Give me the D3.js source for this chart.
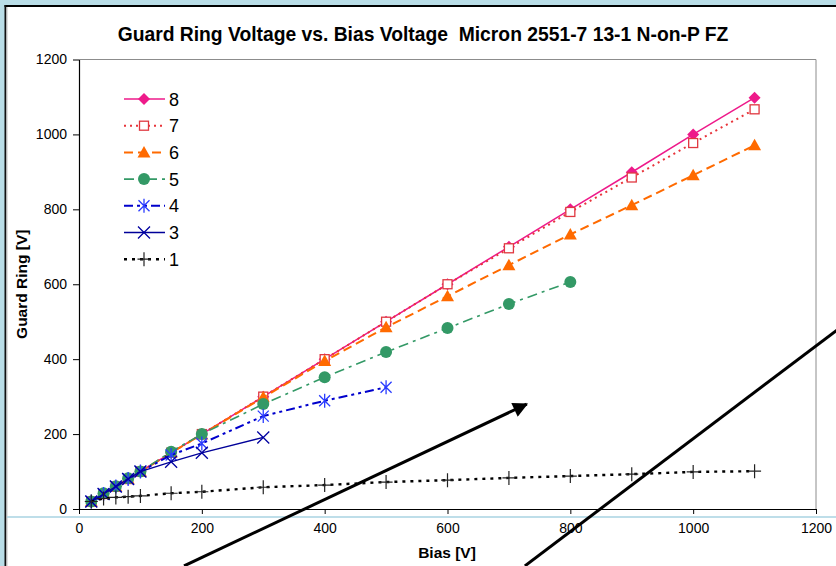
<!DOCTYPE html>
<html>
<head>
<meta charset="utf-8">
<script src="https://cdn.jsdelivr.net/npm/d3@7"></script>
<style>
  html, body { margin: 0; padding: 0; background: #b9dde7; }
  svg { display: block; }
  text { font-family: "Liberation Sans", Arial, sans-serif; }
</style>
</head>
<body>
<svg id="chart" width="836" height="566"></svg>
<script>
// ---------------- data ----------------
const title = "Guard Ring Voltage vs. Bias Voltage  Micron 2551-7 13-1 N-on-P FZ";
const xLabel = "Bias [V]";
const yLabel = "Guard Ring [V]";
const xTicks = [0, 200, 400, 600, 800, 1000, 1200];
const yTicks = [0, 200, 400, 600, 800, 1000, 1200];

const biasFull = [20, 40, 60, 80, 100, 150, 200, 300, 400, 500, 600, 700, 800, 900, 1000, 1100];
const bias5 = [20, 40, 60, 80, 100, 150, 200, 300, 400, 500, 600, 700, 800];
const bias4 = [20, 40, 60, 80, 100, 150, 200, 300, 400, 500];
const bias3 = [20, 40, 60, 80, 100, 150, 200, 300];

const ring8 = [20, 40, 60, 80, 100, 150, 200, 300, 400, 500, 600, 700, 800, 899, 1000, 1098];
const ring7 = [20, 40, 60, 80, 100, 150, 200, 300, 400, 500, 600, 696, 793, 885, 977, 1067];
const ring6 = [20, 40, 60, 80, 100, 150, 199, 298, 395, 485, 568, 651, 733, 811, 891, 971];
const ring5 = [20, 42, 61, 82, 100, 153, 200, 280, 352, 419, 483, 547, 606];
const ring4 = [20, 40, 60, 80, 100, 144, 175, 248, 289, 325];
const ring3 = [20, 40, 60, 80, 100, 126, 150, 191];
const ring1 = [20, 28, 31, 33, 35, 42, 46, 58, 64, 72, 77, 83, 88, 93, 99, 101];

const seriesNames = ["8", "7", "6", "5", "4", "3", "1"];

// annotation arrows (in data units of the chart axes)
const arrowA = [[171, -152], [729, 280]];
const arrowB = [[726, -152], [1240, 485]];

// ---------------- styles ----------------
const styles = {
  "8": { color: "#ee1a8a", dash: null, width: 1.5, marker: "diamond", mcolor: "#ee1a8a" },
  "7": { color: "#e8343a", dash: "2,4", width: 2, marker: "square", mcolor: "#e03840" },
  "6": { color: "#ff6a00", dash: "9,5", width: 2, marker: "triangle", mcolor: "#ff6a00" },
  "5": { color: "#339966", dash: "10,5,3,5", width: 1.6, marker: "circle", mcolor: "#339966" },
  "4": { color: "#0000cc", dash: "9,4,3,4,3,4", width: 2, marker: "asterisk", mcolor: "#2a3cff" },
  "3": { color: "#000099", dash: null, width: 1.3, marker: "x", mcolor: "#0000a0" },
  "1": { color: "#000000", dash: "3,5", width: 2.4, marker: "plus", mcolor: "#222222" }
};

const seriesData = {
  "8": biasFull.map((b, i) => [b, ring8[i]]),
  "7": biasFull.map((b, i) => [b, ring7[i]]),
  "6": biasFull.map((b, i) => [b, ring6[i]]),
  "5": bias5.map((b, i) => [b, ring5[i]]),
  "4": bias4.map((b, i) => [b, ring4[i]]),
  "3": bias3.map((b, i) => [b, ring3[i]]),
  "1": biasFull.map((b, i) => [b, ring1[i]])
};

// ---------------- layout ----------------
const svg = d3.select("#chart");
const W = 836, H = 566;
const plot = { left: 79, right: 816, top: 59.5, bottom: 509 };

const x = d3.scaleLinear().domain([0, 1200]).range([plot.left, plot.right]);
const y = d3.scaleLinear().domain([0, 1200]).range([plot.bottom, plot.top]);

// frame
svg.append("rect").attr("x", 6).attr("y", 7).attr("width", W - 6).attr("height", H - 7).attr("fill", "#ffffff");
svg.append("line").attr("x1", 4.5).attr("x2", W).attr("y1", 6).attr("y2", 6).attr("stroke", "#000").attr("stroke-width", 2);
svg.append("line").attr("x1", 5.3).attr("x2", 5.3).attr("y1", 5).attr("y2", H).attr("stroke", "#111").attr("stroke-width", 1.6);
svg.append("line").attr("x1", 6.8).attr("x2", 6.8).attr("y1", 7).attr("y2", H).attr("stroke", "#9a9a9a").attr("stroke-width", 1);
// slide decoration line
svg.append("line").attr("x1", 7).attr("x2", W).attr("y1", 517).attr("y2", 517).attr("stroke", "#a9d3e2").attr("stroke-width", 1.5);

// title
svg.append("text").attr("x", 423).attr("y", 41).attr("text-anchor", "middle")
  .attr("font-size", 19.3).attr("font-weight", "bold").attr("fill", "#000")
  .style("white-space", "pre").attr("xml:space", "preserve").text(title);

// plot border (gray top & right)
svg.append("path")
  .attr("d", `M${plot.left},${plot.top}H${plot.right}V${plot.bottom}`)
  .attr("fill", "none").attr("stroke", "#8c8c8c").attr("stroke-width", 1);

// axes
const fmt = d3.format("d");
const xAxis = d3.axisBottom(x).tickValues(xTicks).tickFormat(fmt).tickSize(5).tickSizeOuter(0).tickPadding(9);
const yAxis = d3.axisLeft(y).tickValues(yTicks).tickFormat(fmt).tickSize(6).tickSizeOuter(0).tickPadding(6);

const gx = svg.append("g").attr("transform", `translate(0,${plot.bottom})`).call(xAxis);
const gy = svg.append("g").attr("transform", `translate(${plot.left},0)`).call(yAxis);
[gx, gy].forEach(g => {
  g.attr("font-size", 14).attr("font-family", "'Liberation Sans', Arial, sans-serif");
  g.select(".domain").attr("stroke", "#000").attr("stroke-width", 1.2);
  g.selectAll(".tick line").attr("stroke", "#000");
  g.selectAll(".tick text").attr("font-size", 14).attr("fill", "#000");
});

// axis titles
svg.append("text").attr("x", 447).attr("y", 558).attr("text-anchor", "middle")
  .attr("font-size", 15.5).attr("font-weight", "bold").text(xLabel);
svg.append("text").attr("transform", `translate(27,${(plot.top + plot.bottom) / 2}) rotate(-90)`)
  .attr("text-anchor", "middle").attr("font-size", 15.5).attr("font-weight", "bold").text(yLabel);

// ---------------- markers ----------------
function drawMarker(g, type, cx, cy, color) {
  const s = 6;
  if (type === "diamond") {
    g.append("path").attr("d", `M${cx},${cy - s}L${cx + s},${cy}L${cx},${cy + s}L${cx - s},${cy}Z`).attr("fill", color);
  } else if (type === "square") {
    g.append("rect").attr("x", cx - 4.5).attr("y", cy - 4.5).attr("width", 9).attr("height", 9)
      .attr("fill", "#fff").attr("stroke", color).attr("stroke-width", 1.3);
  } else if (type === "triangle") {
    g.append("path").attr("d", `M${cx},${cy - 6.5}L${cx + 6.5},${cy + 5}L${cx - 6.5},${cy + 5}Z`).attr("fill", color);
  } else if (type === "circle") {
    g.append("circle").attr("cx", cx).attr("cy", cy).attr("r", 6).attr("fill", color);
  } else if (type === "asterisk") {
    g.append("path").attr("d",
      `M${cx - 5.5},${cy - 5.5}L${cx + 5.5},${cy + 5.5}M${cx - 5.5},${cy + 5.5}L${cx + 5.5},${cy - 5.5}M${cx},${cy - 7}V${cy + 7}`)
      .attr("stroke", color).attr("stroke-width", 1.3).attr("fill", "none");
  } else if (type === "x") {
    g.append("path").attr("d",
      `M${cx - 6},${cy - 6}L${cx + 6},${cy + 6}M${cx - 6},${cy + 6}L${cx + 6},${cy - 6}`)
      .attr("stroke", color).attr("stroke-width", 1.3).attr("fill", "none");
  } else if (type === "plus") {
    g.append("path").attr("d", `M${cx - 6.5},${cy}H${cx + 6.5}M${cx},${cy - 7}V${cy + 7}`)
      .attr("stroke", color).attr("stroke-width", 1.2).attr("fill", "none");
  }
}

// ---------------- series ----------------
const line = d3.line().x(d => x(d[0])).y(d => y(d[1]));
seriesNames.forEach(name => {
  const st = styles[name];
  const g = svg.append("g").attr("class", "series s" + name);
  g.append("path").datum(seriesData[name]).attr("d", line)
    .attr("fill", "none").attr("stroke", st.color).attr("stroke-width", st.width)
    .attr("stroke-dasharray", st.dash);
  seriesData[name].forEach(d => drawMarker(g, st.marker, x(d[0]), y(d[1]), st.mcolor));
});

// ---------------- legend ----------------
const legend = svg.append("g");
seriesNames.forEach((name, i) => {
  const st = styles[name];
  const ly = 99 + i * 26.7;
  legend.append("line").attr("x1", 124).attr("x2", 165).attr("y1", ly).attr("y2", ly)
    .attr("stroke", st.color).attr("stroke-width", st.width).attr("stroke-dasharray", st.dash);
  drawMarker(legend, st.marker, 144, ly, st.mcolor);
  legend.append("text").attr("x", 169).attr("y", ly + 6.5).attr("font-size", 18).attr("fill", "#000").text(name);
});

// ---------------- annotation arrows ----------------
svg.append("defs").append("marker").attr("id", "ah")
  .attr("viewBox", "0 0 10 10").attr("refX", 9).attr("refY", 5)
  .attr("markerWidth", 6).attr("markerHeight", 5).attr("orient", "auto")
  .append("path").attr("d", "M0,0L10,5L0,10Z").attr("fill", "#000");

[arrowA, arrowB].forEach((a, i) => {
  const p = svg.append("line")
    .attr("x1", x(a[0][0])).attr("y1", y(a[0][1]))
    .attr("x2", x(a[1][0])).attr("y2", y(a[1][1]))
    .attr("stroke", "#000").attr("stroke-width", 3);
  if (i === 0) p.attr("marker-end", "url(#ah)");
});
</script>
</body>
</html>
